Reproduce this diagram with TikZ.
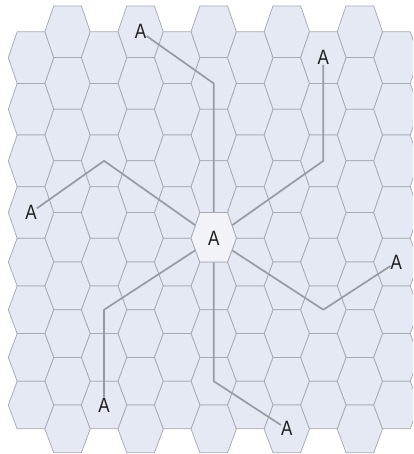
\documentclass[tikz,border=0pt]{standalone}
\usepackage{fontspec}
\setmainfont{Liberation Sans}
\usepackage{graphicx}
\definecolor{hexfill}{RGB}{228,233,244}
\definecolor{hexedge}{RGB}{168,170,178}
\definecolor{centerfill}{RGB}{241,243,249}
\definecolor{linegray}{RGB}{152,155,162}
\definecolor{txt}{RGB}{30,30,30}
\pgfdeclarelayer{front}
\pgfsetlayers{main,front}
\tikzset{
  hexcell/.style={fill=hexfill,draw=hexedge,line width=0.75pt},
  centercell/.style={fill=centerfill,draw=hexedge,line width=0.75pt},
  letter/.style={inner sep=0pt,text=txt,font=\fontsize{17}{17}\selectfont},
  connector/.style={draw=linegray,line width=1.7pt,line join=round},
}
\newcommand\hexcellat[3]{%
  \path[#1] ({X(#2)-22.7},{Y(#3)}) -- ({X(#2)-13.84},{Y(#3-1)}) -- ({X(#2)+13.84},{Y(#3-1)})
    -- ({X(#2)+22.7},{Y(#3)}) -- ({X(#2)+13.84},{Y(#3+1)}) -- ({X(#2)-13.84},{Y(#3+1)}) -- cycle;}
\newcommand\tallA{\scalebox{1}[1.22]{A}}
\begin{document}
\begin{tikzpicture}[x=1pt,y=-1pt,
  declare function={X(\c)=31+36.54*\c; Y(\k)=ifthenelse(\k<=9,6+25.81*\k,238.3+23.82*(\k-9));}]
\useasboundingbox (0,0) rectangle (413,454);
\fill[white] (0,0) rectangle (413,454);
\begin{scope}
\clip (0,0) rectangle (413,454);
\foreach \c in {1,3,5,7,9} {\foreach \k in {1,3,...,17} {\hexcellat{hexcell}{\c}{\k}}}
\foreach \c in {0,2,...,10} {\foreach \k in {2,4,...,16} {\hexcellat{hexcell}{\c}{\k}}}
\end{scope}
% centre cell and hub, drawn above the connectors
\begin{pgfonlayer}{front}
\hexcellat{centercell}{5}{9}
\node[letter] (hub) at ({X(5)},{Y(9)}) {\tallA};
\end{pgfonlayer}
% outer nodes
\node[letter] (pA) at ({X(3)},{Y(1)}) {\tallA};
\node[letter] (pB) at ({X(8)},{Y(2)}) {\tallA};
\node[letter] (pC) at ({X(0)},{Y(8)}) {\tallA};
\node[letter] (pD) at ({X(10)},{Y(10)}) {\tallA};
\node[letter] (pE) at ({X(2)},{Y(16)}) {\tallA};
\node[letter] (pF) at ({X(7)},{Y(17)}) {\tallA};
% bends
\coordinate (bA) at ({X(5)},{Y(3)});
\coordinate (bB) at ({X(8)},{Y(6)});
\coordinate (bC) at ({X(2)},{Y(6)});
\coordinate (bD) at ({X(8)},{Y(12)});
\coordinate (bE) at ({X(2)},{Y(12)});
\coordinate (bF) at ({X(5)},{Y(15)});
% connectors
\draw[connector] (hub.center) -- (bA) -- (pA);
\draw[connector] (hub.center) -- (bB) -- (pB);
\draw[connector] (hub.center) -- (bC) -- (pC);
\draw[connector] (hub.center) -- (bD) -- (pD);
\draw[connector] (hub.center) -- (bE) -- (pE);
\draw[connector] (hub.center) -- (bF) -- (pF);
\end{tikzpicture}
\end{document}
